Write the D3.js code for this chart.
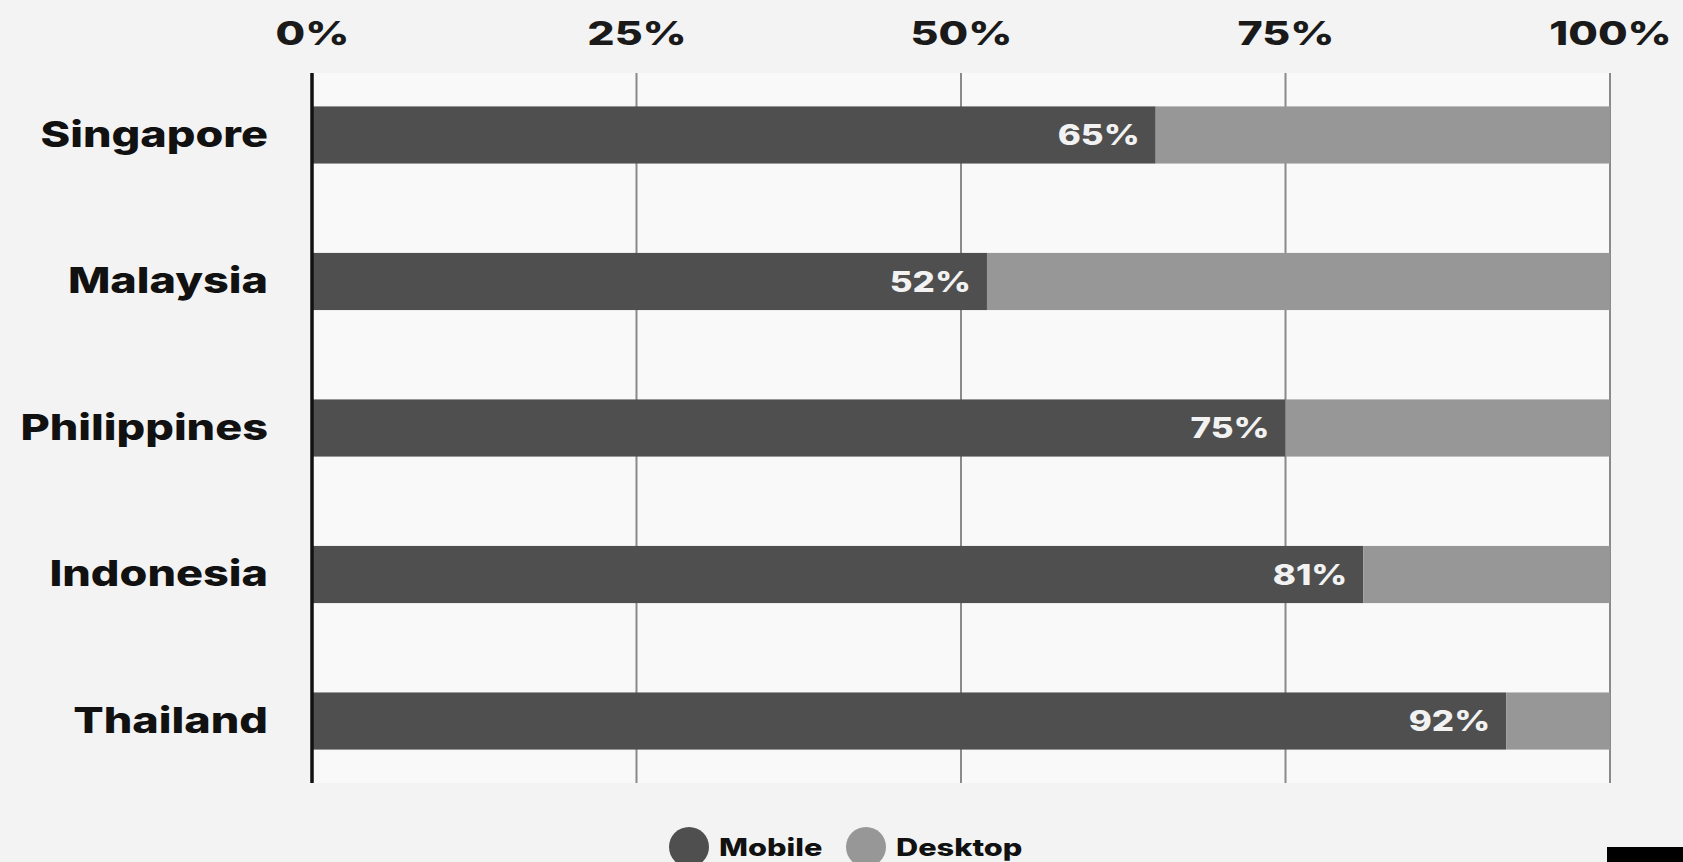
<!DOCTYPE html>
<html><head><meta charset="utf-8">
<script src="https://cdn.jsdelivr.net/npm/d3@7"></script>
<style>
html,body{margin:0;padding:0;background:#f3f3f3;overflow:hidden;}
svg{display:block;font-family:"Inter","Open Sans",sans-serif;}
</style></head><body>
<svg id="c" width="1683" height="862"></svg>
<script>
const countries = ["Singapore","Malaysia","Philippines","Indonesia","Thailand"];
const mobile = [65,52,75,81,92];
const desktop = [35,48,25,19,8];
const ticks = [0,25,50,75,100];
const tickLabels = ["0%","25%","50%","75%","100%"];
const seriesNames = ["Mobile","Desktop"];
const colors = ["#4f4f4f","#979797"];

const svg = d3.select("#c");
const x = d3.scaleLinear().domain([0,100]).range([312,1610]);
const y = d3.scaleBand().domain(countries).range([73,783]).paddingInner(0.61).paddingOuter(0.228);

// widen glyphs horizontally (geometric wide typeface look)
function stretch(sel, s){
  sel.each(function(){
    const t = d3.select(this);
    const tx = +t.attr("x") || 0, ty = +t.attr("y") || 0;
    t.attr("x",0).attr("y",0).attr("transform",`translate(${tx},${ty}) scale(${s},1)`);
  });
}

// plot background
svg.append("rect").attr("x",x(0)).attr("y",73).attr("width",x(100)-x(0)).attr("height",710).attr("fill","#f9f9f9");

// grid lines
svg.append("g").selectAll("line").data(ticks.slice(1)).join("line")
  .attr("x1",d=>x(d)).attr("x2",d=>x(d)).attr("y1",73).attr("y2",783)
  .attr("stroke","#8a8a8a").attr("stroke-width",2);

// tick labels
const xa = d3.axisTop(x).tickValues(ticks).tickFormat((d,i)=>tickLabels[i]).tickSize(0).tickPadding(0);
const gx = svg.append("g").attr("transform","translate(0,45)").call(xa);
gx.select(".domain").remove();
gx.selectAll("text").attr("font-size",33).attr("font-weight",800).attr("fill","#1a1a1a")
  .attr("font-family","Inter, 'Open Sans', sans-serif").attr("dy",0);
stretch(gx.selectAll("text"), 1.3);

// stacked bars
const stackData = countries.map((c,i)=>({country:c, Mobile:mobile[i], Desktop:desktop[i]}));
const stack = d3.stack().keys(seriesNames)(stackData);
svg.append("g").selectAll("g").data(stack).join("g").attr("fill",(d,i)=>colors[i])
  .selectAll("rect").data(d=>d).join("rect")
  .attr("x",d=>x(d[0])).attr("width",d=>x(d[1])-x(d[0]))
  .attr("y",d=>y(d.data.country)).attr("height",y.bandwidth());

// value labels
const vl = svg.append("g").selectAll("text").data(stackData).join("text")
  .attr("x",d=>x(d.Mobile)-16).attr("y",d=>y(d.country)+y.bandwidth()/2)
  .attr("dy","0.36em").attr("text-anchor","end").attr("fill","#f2f2f2")
  .attr("font-size",28).attr("font-weight",800).text(d=>d.Mobile+"%");
stretch(vl, 1.25);

// y axis
const ya = d3.axisLeft(y).tickSize(0).tickPadding(44);
const gy = svg.append("g").attr("transform",`translate(${x(0)},0)`).call(ya);
gy.select(".domain").remove();
gy.selectAll("text").attr("font-size",36).attr("font-weight",800).attr("fill","#111")
  .attr("font-family","Inter, 'Open Sans', sans-serif");
stretch(gy.selectAll("text"), 1.25);
svg.append("line").attr("x1",x(0)).attr("x2",x(0)).attr("y1",73).attr("y2",783)
  .attr("stroke","#111").attr("stroke-width",3.5);

// legend
const lg = svg.append("g");
const lx = [689, 866];
seriesNames.forEach((s,i)=>{
  lg.append("circle").attr("cx",lx[i]).attr("cy",847).attr("r",20).attr("fill",colors[i]);
  const t = lg.append("text").attr("x",lx[i]+30).attr("y",847).attr("dy","0.36em")
    .attr("font-size",24).attr("font-weight",800).attr("fill","#111").text(s);
  stretch(t, 1.28);
});

// corner mark
svg.append("rect").attr("x",1607).attr("y",847).attr("width",76).attr("height",15).attr("fill","#000");
</script></body></html>
